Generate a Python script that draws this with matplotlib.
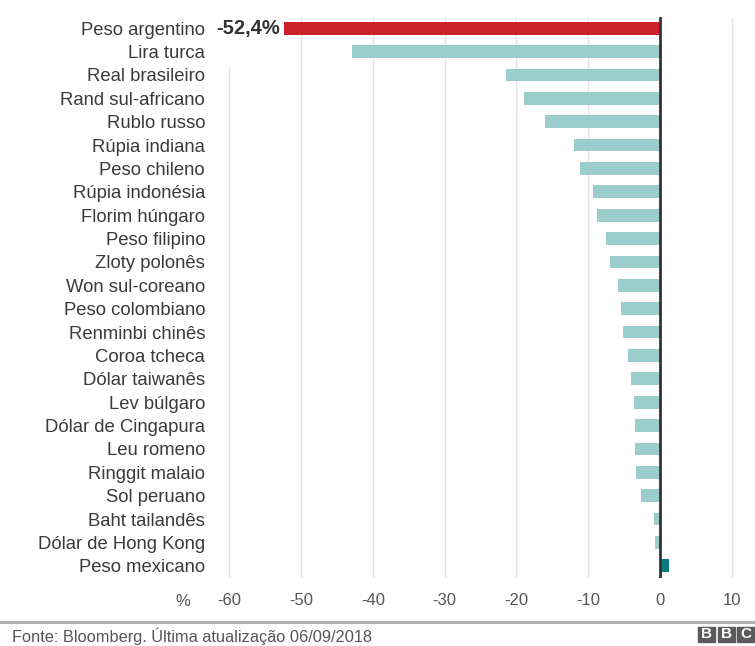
import matplotlib
matplotlib.use("Agg")
import matplotlib.pyplot as plt
from matplotlib.patches import Rectangle

categories = [
    "Peso argentino", "Lira turca", "Real brasileiro", "Rand sul-africano",
    "Rublo russo", "Rúpia indiana", "Peso chileno", "Rúpia indonésia",
    "Florim húngaro", "Peso filipino", "Zloty polonês", "Won sul-coreano",
    "Peso colombiano", "Renminbi chinês", "Coroa tcheca", "Dólar taiwanês",
    "Lev búlgaro", "Dólar de Cingapura", "Leu romeno", "Ringgit malaio",
    "Sol peruano", "Baht tailandês", "Dólar de Hong Kong", "Peso mexicano",
]
values = [
    -52.4, -42.9, -21.5, -18.9, -16.0, -12.0, -11.2, -9.4, -8.8, -7.5, -7.0,
    -5.9, -5.4, -5.2, -4.4, -4.0, -3.6, -3.5, -3.5, -3.4, -2.6, -0.9, -0.7, 1.2,
]
xticks = [-60, -50, -40, -30, -20, -10, 0, 10]
xtick_labels = ["-60", "-50", "-40", "-30", "-20", "-10", "0", "10"]
highlight_label = "-52,4%"
source = "Fonte: Bloomberg. Última atualização 06/09/2018"

plt.rcParams['font.family'] = ['Liberation Sans', 'DejaVu Sans']

W, H = 755, 646
fig = plt.figure(figsize=(W / 100, H / 100), dpi=100)
zero_px, scale = 660.0, 7.18
xmin, xmax = -62, 12
ax_left, ax_right = zero_px + xmin * scale, zero_px + xmax * scale
ax_top, ax_bot = 16.5, 577.5
ax = fig.add_axes([ax_left / W, 1 - ax_bot / H, (ax_right - ax_left) / W, (ax_bot - ax_top) / H])

n = len(categories)
ypos = list(range(n))
colors = []
for i, v in enumerate(values):
    if i == 0:
        colors.append("#c9222a")
    elif v > 0:
        colors.append("#0e7c7b")
    else:
        colors.append("#9bcdcc")

ax.set_xlim(xmin, xmax)
ax.set_ylim(n - 0.5, -0.5)

# gridlines
for t in xticks:
    if t == 0:
        continue
    if t == -60:
        ax.vlines(t, n - 0.5, 1.58, color="#e6e6e6", lw=1.0, zorder=0)
    else:
        ax.vlines(t, n - 0.5, -0.5, color="#e6e6e6", lw=1.0, zorder=0)

ax.barh(ypos, values, height=0.55, color=colors, zorder=2)
ax.axvline(0, color="#333333", lw=2, zorder=3)

ax.text(values[0] - 0.5, 0, highlight_label, ha="right", va="center",
        fontsize=14.5, fontweight="bold", color="#333333")

ax.set_yticks(ypos)
ax.set_yticklabels(categories, fontsize=13.3, color="#3a3a3a")
ax.set_xticks(xticks)
ax.set_xticklabels(xtick_labels, fontsize=12, color="#555555")
ax.tick_params(axis="both", length=0)
ax.tick_params(axis="y", pad=7)
ax.tick_params(axis="x", pad=11)
for s in ax.spines.values():
    s.set_visible(False)

fig.text(183 / W, 1 - 602 / H, "%", ha="center", va="center", fontsize=12, color="#555555")

# footer line
fig.add_artist(plt.Line2D([0, 1], [1 - 622 / H, 1 - 622 / H], color="#aaaaaa", lw=2,
                          transform=fig.transFigure))
fig.text(12 / W, 1 - 636 / H, source, ha="left", va="center", fontsize=11.8, color="#555555")

# BBC logo
bx0, by0, bw, bh, gap = 698, 627, 17, 15, 2.5
for k, letter in enumerate("BBC"):
    x0 = bx0 + k * (bw + gap)
    fig.add_artist(Rectangle((x0 / W, 1 - (by0 + bh) / H), bw / W, bh / H,
                             transform=fig.transFigure, color="#5b5b5b"))
    fig.text((x0 + bw / 2) / W, 1 - (by0 + bh / 2) / H, letter, ha="center", va="center",
             fontsize=11, fontweight="bold", color="white")

fig.savefig("out.png", dpi=100)
